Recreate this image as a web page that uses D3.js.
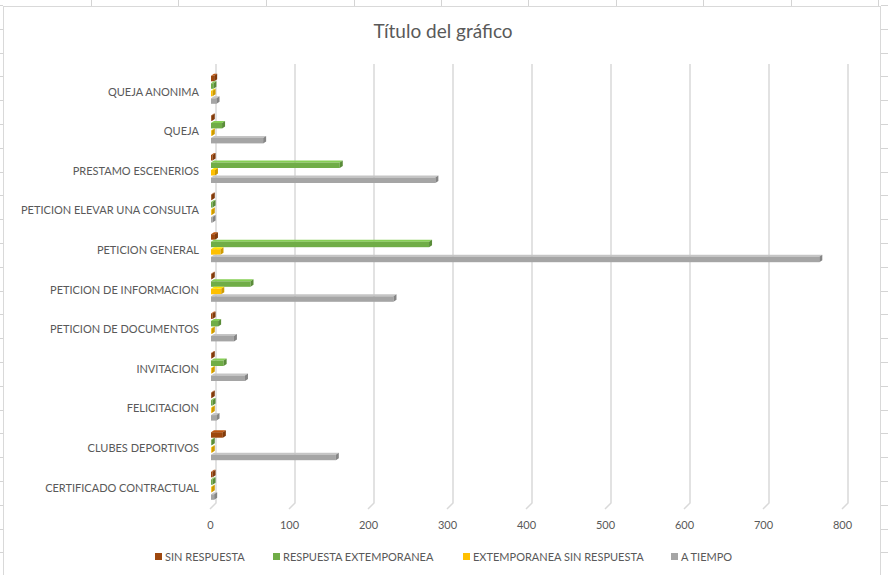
<html>
<head>
<meta charset="utf-8">
<script src="https://d3js.org/d3.v7.min.js"></script>
<style>
  body { margin: 0; background: #fff; }
  text { font-family: Lato, "Open Sans", sans-serif; fill: #595959; }
</style>
</head>
<body>
<svg id="visual" width="888" height="575"></svg>
<script>
// categories as they appear top to bottom
var categories = ["QUEJA ANONIMA", "QUEJA", "PRESTAMO ESCENERIOS", "PETICION ELEVAR UNA CONSULTA",
  "PETICION GENERAL", "PETICION DE INFORMACION", "PETICION DE DOCUMENTOS", "INVITACION",
  "FELICITACION", "CLUBES DEPORTIVOS", "CERTIFICADO CONTRACTUAL"];
var series = ["SIN RESPUESTA", "RESPUESTA EXTEMPORANEA", "EXTEMPORANEA SIN RESPUESTA", "A TIEMPO"];
var sinRespuesta = [4, 1, 2, 1, 5, 1, 2, 1, 1, 15, 2];
var respuestaExt = [3, 14, 163, 2, 276, 50, 9, 16, 2, 1, 2];
var extSinResp = [2, 1, 5, 1, 12, 13, 1, 1, 1, 1, 1];
var aTiempo = [7, 66, 284, 2, 770, 231, 29, 43, 7, 158, 4];
var xTicks = [0, 100, 200, 300, 400, 500, 600, 700, 800];
var colors = ["#9E480E", "#70AD47", "#FFC000", "#A5A5A5"];

var values = [sinRespuesta, respuestaExt, extSinResp, aTiempo];

var svg = d3.select("#visual");

// spreadsheet cell lines behind the chart
var g0 = svg.append("g").attr("stroke", "#d4d4d4").attr("stroke-width", 1);
[91, 178, 266, 354, 441, 528, 616, 703, 791, 878].forEach(function (x) {
  g0.append("line").attr("x1", x + 0.5).attr("x2", x + 0.5).attr("y1", 0).attr("y2", 6);
});
d3.range(5, 575, 23.8).forEach(function (y) {
  g0.append("line").attr("x1", 0).attr("x2", 3).attr("y1", Math.round(y) + 0.5).attr("y2", Math.round(y) + 0.5);
  g0.append("line").attr("x1", 881).attr("x2", 888).attr("y1", Math.round(y) + 0.5).attr("y2", Math.round(y) + 0.5);
});

// chart area
svg.append("rect").attr("x", 3.5).attr("y", 6.5).attr("width", 877).attr("height", 575)
  .attr("fill", "#fff").attr("stroke", "#d9d9d9");

svg.append("text").attr("x", 443).attr("y", 38).attr("text-anchor", "middle")
  .style("font-size", "19px").text("Título del gráfico");

var depth = 6;
var x = d3.scaleLinear().domain([0, 800]).range([210, 842]);
var y = d3.scaleBand().domain(categories).range([72, 507.6]);
var inner = d3.scaleBand().domain(series).range([0, 30]);

// gridlines with 3D floor slant
var grid = svg.append("g").attr("fill", "none").attr("stroke", "#d9d9d9").attr("stroke-width", 1.5);
xTicks.forEach(function (t) {
  grid.append("path").attr("d", "M" + (x(t) + depth) + ",64 L" + (x(t) + depth) + ",503 L" + x(t) + ",509");
});

var axis = d3.axisBottom(x).tickValues(xTicks).tickSize(0).tickPadding(0);
var ax = svg.append("g").attr("transform", "translate(0,521)").call(axis);
ax.select(".domain").remove();
ax.selectAll("text").style("font-size", "11px").style("fill", "#595959")
  .style("font-family", "Lato, 'Open Sans', sans-serif");

// category labels
svg.append("g").selectAll("text").data(categories).enter().append("text")
  .attr("x", 199).attr("y", function (d) { return y(d) + y.bandwidth() / 2; })
  .attr("dy", "0.35em").attr("text-anchor", "end").style("font-size", "11px")
  .text(function (d) { return d; });

// bars
var bars = svg.append("g");
series.forEach(function (s, si) {
  var c = d3.color(colors[si]);
  var light = c.brighter(0.5).toString();
  var dark = c.darker(0.6).toString();
  categories.forEach(function (cat, ci) {
    var v = values[si][ci];
    var top = y(cat) + y.bandwidth() / 2 - 18 + inner(s) + 2;
    var h = 5.5, dx = 3, dy = 2;
    var x0 = x(0) + 1, x1 = x(v) + 1;
    bars.append("polygon")
      .attr("points", [[x0, top], [x1, top], [x1 + dx, top - dy], [x0 + dx, top - dy]].join(" "))
      .attr("fill", light);
    bars.append("rect").attr("x", x0).attr("y", top).attr("width", x1 - x0).attr("height", h)
      .attr("fill", colors[si]);
    bars.append("polygon")
      .attr("points", [[x1, top], [x1 + dx, top - dy], [x1 + dx, top - dy + h], [x1, top + h]].join(" "))
      .attr("fill", dark);
  });
});

// legend
var legendX = [155, 273, 463, 671];
var leg = svg.append("g");
series.forEach(function (s, i) {
  leg.append("rect").attr("x", legendX[i]).attr("y", 553).attr("width", 7).attr("height", 7)
    .attr("fill", colors[i]);
  leg.append("text").attr("x", legendX[i] + 10).attr("y", 557).attr("dy", "0.35em")
    .style("font-size", "11px").text(s);
});
</script>
</body>
</html>
